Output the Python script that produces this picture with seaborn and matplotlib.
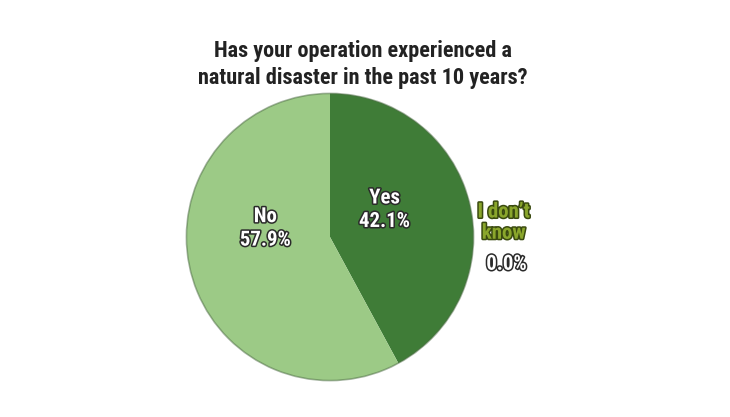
import matplotlib
matplotlib.use("Agg")
import matplotlib.pyplot as plt
import matplotlib.patheffects as pe
import seaborn as sns

# survey answers
answers = ["Yes", "No", "I don't know"]
shares = [42.1, 57.9, 0.0]
slice_colors = ["#3f7c37", "#9cca86", "#8aa62c"]

sns.set_theme(style="white")
plt.rcParams["font.family"] = ["Roboto Condensed", "DejaVu Sans"]

fig = plt.figure(figsize=(7.30, 4.17), dpi=100)
ax = fig.add_axes([185 / 730, 35 / 417, 290 / 730, 290 / 417])

wedges, _ = ax.pie(shares, colors=slice_colors, startangle=90, counterclock=False,
                   radius=1.0, wedgeprops=dict(linewidth=0))
# faint darker rim like the original's bevel
ax.pie([sum(shares)], colors=["none"], radius=1.0,
       wedgeprops=dict(linewidth=1.2, edgecolor="#4d6b45", alpha=0.5))
ax.set_xlim(-1.01, 1.01)
ax.set_ylim(-1.01, 1.01)
ax.set_aspect("equal")
ax.axis("off")

outline = [pe.withStroke(linewidth=2.2, foreground="#2a2a2a")]
label_pos = {"Yes": (0.38, 0.19), "No": (-0.45, 0.06)}
for name, val in zip(answers, shares):
    if name in label_pos:
        x, y = label_pos[name]
        ax.text(x, y, f"{name}\n{val:.1f}%", ha="center", va="center",
                color="white", fontsize=15, fontweight="bold", linespacing=1.3,
                path_effects=outline)

# the empty slice gets its label outside the pie
ax.text(1.21, 0.10, "I don\u2019t\nknow", ha="center", va="center",
        color=slice_colors[2], fontsize=15, fontweight="bold", linespacing=1.15,
        path_effects=[pe.withStroke(linewidth=2.2, foreground="#3a4a10")],
        clip_on=False)
ax.text(1.23, -0.19, f"{shares[2]:.1f}%", ha="center", va="center",
        color="white", fontsize=15, fontweight="bold",
        path_effects=outline, clip_on=False)

fig.text(0.497, 0.845, "Has your operation experienced a\nnatural disaster in the past 10 years?",
         ha="center", va="center", fontsize=16, fontweight="bold",
         color="#222222", linespacing=1.28)

fig.savefig("out.png", dpi=100)
